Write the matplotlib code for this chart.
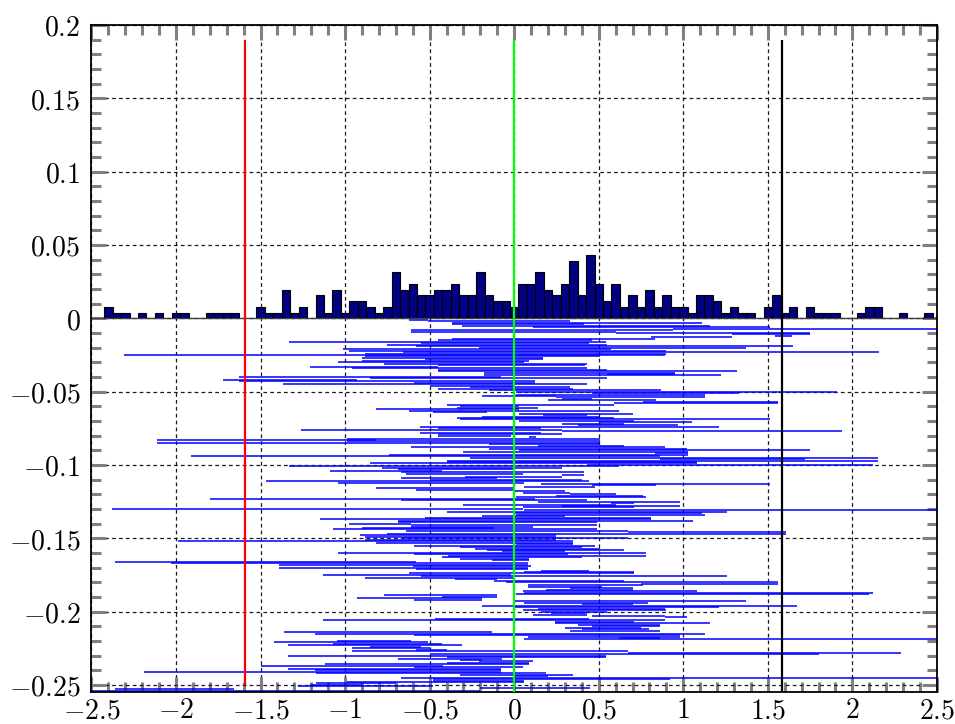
import numpy as np
import matplotlib
matplotlib.use('Agg')
import matplotlib.pyplot as plt
from matplotlib.ticker import MultipleLocator, FuncFormatter

# histogram of the estimates (counts per 0.05 bin, first bin centred at -2.4)
hist_counts = [2, 1, 1, 0, 1, 0, 1, 0, 1, 1, 0, 0, 1, 1, 1, 1, 0, 0, 2, 1,
               1, 5, 1, 2, 0, 4, 1, 5, 1, 3, 3, 2, 1, 2, 8, 5, 6, 4, 4, 5,
               5, 6, 4, 4, 8, 4, 3, 3, 2, 6, 6, 8, 5, 4, 6, 10, 4, 11, 6, 3,
               6, 2, 4, 2, 5, 2, 4, 2, 2, 1, 4, 4, 3, 1, 2, 1, 1, 0, 2, 4,
               1, 2, 0, 2, 1, 1, 1, 0, 0, 1, 2, 2, 0, 0, 1, 0, 0, 1]
n_total = 256
bin_first = -2.4
bin_width = 0.05

# interval end points, one interval per row (row k sits at y = -k/1000)
ci_lo = [-0.69, -0.62, -0.51, -0.37, -0.37, -0.31, 0.11, 0.94, -0.61, -0.61,
         0.60, 1.29, 1.54, 0.81, -0.37, -0.45, -1.33, -0.55, -0.75, -0.58,
         -0.21, -1.01, -0.98, -0.66, -0.88, -2.31, -0.88, -0.90, -0.53, -0.90,
         -1.04, -0.77, -0.45, -1.21, -0.96, -0.45, -0.45, -0.18, 0.55, -0.18,
         -1.63, -0.85,
         -1.72, -1.63, -0.59, -1.37, -0.50, -0.26, -0.45, -0.15, 0.01, 0.46,
         0.01, -0.19, 0.25, 0.28, 0.20, 0.76, 0.59, -0.40, -0.32, -0.34,
         -0.82, -0.62, -0.48, 0.03, 0.17, -0.19, -0.34, -0.32, 0.03, 0.51,
         0.28, 0.38, -0.56, -0.45, -1.26, 0.28, -0.56, -0.45, -0.45, 0.09,
         -0.99, -2.11, -0.99,
         -2.11, -0.15, 0.14, -0.61, -0.15, 0.03, -0.30, 0.83, -0.74, -1.91,
         -0.26, 0.86, -0.40, -0.40, -0.85, 0.43, -1.33, -0.78, -0.69, -1.09,
         -0.67, -0.64, 0.28, -0.29, -0.67, -0.50, -1.47, -1.04, 0.16, 0.46,
         0.06, -0.82, -0.58, 0.00, 0.05, 0.33, 0.25, 0.01, -1.80, -0.67,
         0.14, 0.57, -0.30,
         0.28, 0.05, -2.38, 0.06, -0.40, 0.00, 0.01, -0.19, -0.53, -1.15,
         -0.69, -0.69, -0.98, -0.61, -0.61, -0.90, -1.07, -0.64, 0.67, -0.75,
         -0.91, -0.88, -0.66, -0.88, -1.99, -0.82, 0.01, -0.59, -0.32, -0.23,
         -0.16, -0.07, -1.04, -0.59, -0.39, -0.43, -0.32, -0.13, -2.36, -2.03,
         -1.39, -0.60,
         -1.39, -0.58, 0.16, 0.06, -0.62, -1.13, -0.55, -0.88, -0.35, -0.12,
         -0.05, 0.75, 0.08, 0.08, 0.33, 0.19, 0.05, 0.06, 0.01, -0.77,
         -0.43, -0.93, -0.59, 0.00, 0.06, 0.40, -0.19, 0.00, 0.14, 0.05,
         0.16, 0.22, 0.11, 0.46, 0.89, -0.47, -1.13, 0.24, 0.24, 0.38,
         0.46, 0.30, 0.40,
         0.33, -1.36, -1.18, -0.59, 0.08, 0.62, 0.06, -1.05, -1.42, -1.07,
         -1.34, -0.85, -0.96, -0.58, -0.96, 0.67, -0.50, -1.34, -0.40, -0.69,
         -0.32, -0.21, -0.40, -1.12, -1.50, -0.59, -1.34, -1.18, -2.19, -1.17,
         -0.32, 0.00, -0.67, -0.48, -0.48, -0.99, -1.17, -1.21, -1.28, -0.20,
         -2.36, -2.50, -2.45]
ci_hi = [-0.50, -0.51, 0.33, 1.11, 0.41, 1.16, 1.51, 2.55, 0.94, 0.60,
         1.75, 1.75, 1.64, 1.29, 0.83, 0.46, 0.54, 0.44, 0.55, 1.65,
         1.37, 0.57, 0.90, 2.16, 0.90, 0.89, 0.51, 0.17, 0.17, 0.09,
         0.06, 0.43, 0.42, -0.45, 0.43, 0.55, 1.32, 0.95, 0.95, 1.22,
         -0.08, 0.55,
         -0.93, 0.12, 0.12, 0.43, 0.00, 0.33, 0.35, 0.87, 1.91, 1.33,
         1.13, 0.25, 1.13, 0.46, 0.84, 1.56, 1.56, 0.59, 0.03, 0.14,
         0.03, 0.62, -0.16, 0.70, 0.43, 0.51, 0.59, 1.51, 0.71, 1.05,
         0.65, 0.97, 1.21, 0.16, 0.28, 1.94, 0.16, 0.28, -0.02, 0.13,
         0.51, -0.82, 0.51,
         0.51, 0.51, 0.65, 0.89, 1.02, 1.75, 1.03, 1.03, 1.03, 0.86,
         2.15, 1.72, 2.15, 1.08, 1.08, 2.12, 0.62, 0.28, 0.00, -0.43,
         0.41, 0.05, 0.41, 0.28, -0.10, 0.40, 0.44, 0.06, 1.51, 0.84,
         0.48, 0.00, 0.00, 0.30, 0.33, 0.60, 0.76, 0.78, 0.12, 0.43,
         0.98, 0.71, 0.60,
         0.98, 0.71, 0.05, 2.55, 1.26, 1.11, 1.13, 0.30, 0.81, 0.81,
         1.06, 0.49, -0.61, 0.49, 0.11, -0.12, 0.49, 0.67, 1.61, 1.61,
         0.25, 0.25, 0.67, 0.25, 0.35, 0.35, 0.35, 0.48, 0.40, 0.51,
         0.65, 0.30, 0.78, 0.32, 0.78, 0.40, 0.09, 0.09, -0.58, 0.08,
         0.08, 0.10,
         0.08, 0.08, 0.44, 0.71, 0.71, -0.02, 1.26, 0.00, -0.10, 0.65,
         1.56, 1.56, 0.76, 0.52, 0.70, 0.70, 1.08, 2.12, 2.10, -0.10,
         -0.10, -0.19, -0.19, 1.37, 0.79, 0.70, 1.67, 1.21, 0.89, 0.90,
         0.55, 0.43, 0.43, 0.89, 1.02, 0.44, 0.89, 0.71, 1.16, 0.86,
         0.86, 0.75, 0.80,
         0.86, -0.13, 1.13, 0.98, 0.98, 0.86, 2.55, -0.61, -0.51, -0.43,
         -0.31, -0.55, -0.50, -0.40, 0.67, 2.29, 1.80, 0.54, 0.54, -0.07,
         -0.19, 0.11, 0.09, 0.09, -0.42, 0.05, -0.08, -0.08, -0.08, 0.19,
         0.35, 0.20, 2.55, 0.92, 0.06, 0.06, -0.70, -0.90, -0.48, 0.45,
         -1.66, -0.20, -0.40]

# reference positions drawn as vertical lines
x_red = -1.59
x_green = 0.0
x_black = 1.585

plt.rcParams['mathtext.fontset'] = 'cm'

fig = plt.figure(figsize=(9.55, 7.24), dpi=100)
ax = fig.add_axes([0.0958, 0.0438, 0.8853, 0.9217])

# intervals below zero
y_rows = -np.arange(len(ci_lo)) / 1000.0
ax.hlines(y_rows, ci_lo, ci_hi, color='#0000ff', lw=1.1, zorder=2)

# histogram above zero
centers = bin_first + bin_width * np.arange(len(hist_counts))
heights = np.array(hist_counts) / n_total
ax.bar(centers, heights, width=bin_width, color='#000080',
       edgecolor='k', linewidth=0.8, zorder=2)
ax.axhline(0, color='0.25', lw=0.9, zorder=2)

ax.vlines(x_red, -0.25, 0.19, color='#ff0000', lw=1.6, zorder=3)
ax.vlines(x_green, -0.255, 0.19, color='#00ff00', lw=1.6, zorder=3)
ax.vlines(x_black, -0.255, 0.19, color='k', lw=1.6, zorder=3)

ax.set_xlim(-2.5, 2.5)
ax.set_ylim(-0.255, 0.2)
ax.set_xticks(np.arange(-2.5, 2.51, 0.5))
ax.set_yticks(np.arange(-0.25, 0.201, 0.05))
ax.xaxis.set_minor_locator(MultipleLocator(0.1))
ax.yaxis.set_minor_locator(MultipleLocator(0.01))


def tex_label(v, pos):
    s = f'{round(v, 3):g}'
    if s == '-0':
        s = '0'
    return f'${s}$'


ax.xaxis.set_major_formatter(FuncFormatter(tex_label))
ax.yaxis.set_major_formatter(FuncFormatter(tex_label))

ax.grid(True, which='major', color='0.1', linestyle=(0, (3, 2.5)), lw=0.9)
ax.tick_params(which='both', direction='in', top=True, right=True,
               color='#808080', labelsize=20)
ax.tick_params(axis='x', which='major', pad=3)
ax.tick_params(axis='y', which='major', pad=8)
ax.tick_params(which='major', length=10.8, width=2.2)
ax.tick_params(which='minor', length=7.2, width=2.2)
for sp in ax.spines.values():
    sp.set_linewidth(1.3)
    sp.set_color('k')

fig.savefig('out.png', dpi=100)
